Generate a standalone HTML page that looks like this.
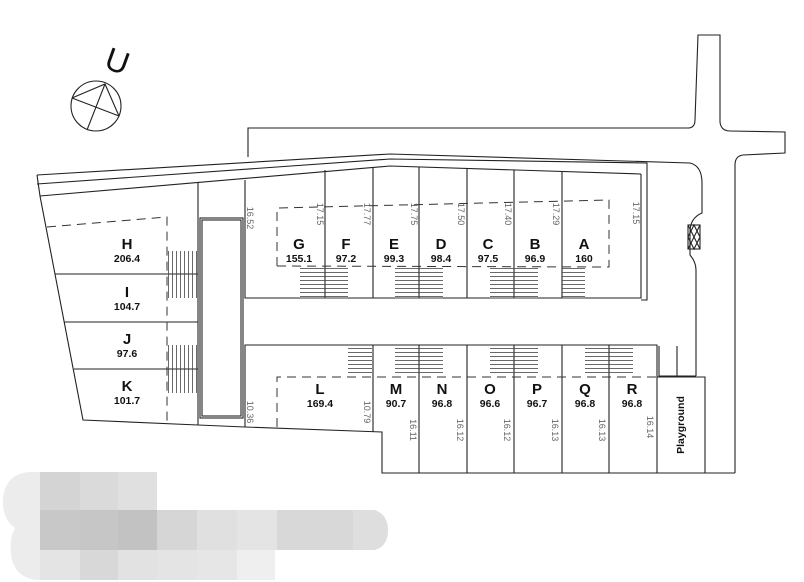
<!DOCTYPE html>
<html><head><meta charset="utf-8"><style>
html,body{margin:0;padding:0;background:#fff;width:804px;height:582px;overflow:hidden}
svg{display:block}
.l{fill:none;stroke:#222;stroke-width:1.1}
.t{stroke:#444;stroke-width:0.8}
.d{fill:none;stroke:#333;stroke-width:1;stroke-dasharray:9 6}
.L{font-family:"Liberation Sans",sans-serif;font-weight:bold;font-size:15px;text-anchor:middle;fill:#111}
.N{font-family:"Liberation Sans",sans-serif;font-weight:bold;font-size:10.5px;text-anchor:middle;fill:#111}
.m{font-family:"Liberation Sans",sans-serif;font-size:9px;fill:#666;text-anchor:middle}
</style></head><body>
<svg width="804" height="582" viewBox="0 0 804 582" xmlns="http://www.w3.org/2000/svg">
<defs>
<pattern id="hh" width="4" height="4" patternUnits="userSpaceOnUse"><line x1="0" y1="0.5" x2="4" y2="0.5" stroke="#444" stroke-width="0.8"/></pattern>
<pattern id="vv" width="4" height="4" patternUnits="userSpaceOnUse"><line x1="0.5" y1="0" x2="0.5" y2="4" stroke="#444" stroke-width="0.8"/></pattern>
</defs>
<!-- compass -->
<circle cx="96" cy="106" r="25" class="l" stroke-width="0.9"/>
<path class="l" stroke-width="0.9" d="M72 98 L119 116 M105 84 L87 130 M72 98 L105 84 L119 116"/>
<text x="117" y="72" transform="rotate(20 117 62)" font-family="Liberation Sans,sans-serif" font-size="32" text-anchor="middle" fill="#111">U</text>
<!-- road / top boundary -->
<path class="l" d="M248 157 L248 128 L688 128 Q695 128 695 120 L698 35 L720 35 L720 122 Q721 131 730 131 L785 132 L785 153 L743 155 Q735 156 735 165 L735 473"/>
<path class="l" d="M37 175 L390 154 L690 163 Q702 166 702 183 L702 213 Q690 218 690 232 L690 255 Q696 262 696 270 L696 376"/>
<rect x="688" y="225" width="12" height="24" class="l" stroke-width="0.8"/>
<path class="l" stroke-width="0.7" d="M688 225 L700 249 M700 225 L688 249 M688 237 L694 225 L700 237 L694 249 Z"/>
<path class="l" d="M37 184 L390 159 L647 163 L647 300 L641 300"/>
<path class="l" d="M40 196 L390 166 L641 174"/>
<!-- left boundary -->
<path class="l" d="M37 175 L40 196 L83 420 L198 425 L245 427 L382 432 L382 473 L735 473"/>
<!-- upper block -->
<path class="l" d="M245 180 L245 298 L641 298 L641 174"/>
<path class="l" d="M325 170 V298 M373 167 V298 M419 167 V298 M467 169 V298 M514 170 V298 M562 171 V298"/>
<!-- lower block -->
<path class="l" d="M245 427 L245 345 L657 345 L657 473 M659 346 L659 376 L696 376 M657 377 L705 377 L705 473 M677 346 L677 376"/>
<path class="l" d="M419 345 V473 M467 345 V473 M514 345 V473 M562 345 V473 M609 345 V473 M373 345 V432"/>
<!-- walkway -->
<rect x="200" y="218" width="43" height="200" class="l"/>
<rect x="202" y="220" width="39" height="196" class="l" stroke-width="0.7"/>
<path class="l" d="M198 183 V425"/>
<!-- left lots -->
<path class="l" d="M55 274 H198 M64 322 H198 M74 369 H198"/>
<path class="d" d="M47 227 L167 217 L167 425"/>
<rect x="167" y="251" width="31" height="47" fill="url(#vv)"/>
<rect x="167" y="345" width="31" height="48" fill="url(#vv)"/>
<!-- dashed build lines -->
<path class="d" d="M277 266 L277 208 L609 200 L609 267 L277 266"/>
<path class="d" d="M277 427 L277 377 L657 377"/>
<!-- stairs -->
<g fill="url(#hh)">
<rect x="300" y="267" width="48" height="31"/>
<rect x="395" y="267" width="48" height="31"/>
<rect x="490" y="267" width="48" height="31"/>
<rect x="562" y="267" width="23" height="31"/>
<rect x="348" y="346" width="24" height="30"/>
<rect x="395" y="346" width="48" height="30"/>
<rect x="490" y="346" width="48" height="30"/>
<rect x="585" y="346" width="48" height="30"/>
</g>
<g class="t"><path d="M300 298H348M395 298H443M490 298H538M562 298H585"/></g>
<!-- labels -->
<text class="L" x="127" y="249">H</text><text class="N" x="127" y="262">206.4</text>
<text class="L" x="127" y="297">I</text><text class="N" x="127" y="310">104.7</text>
<text class="L" x="127" y="344">J</text><text class="N" x="127" y="357">97.6</text>
<text class="L" x="127" y="391">K</text><text class="N" x="127" y="404">101.7</text>
<text class="L" x="299" y="249">G</text><text class="N" x="299" y="262">155.1</text>
<text class="L" x="346" y="249">F</text><text class="N" x="346" y="262">97.2</text>
<text class="L" x="394" y="249">E</text><text class="N" x="394" y="262">99.3</text>
<text class="L" x="441" y="249">D</text><text class="N" x="441" y="262">98.4</text>
<text class="L" x="488" y="249">C</text><text class="N" x="488" y="262">97.5</text>
<text class="L" x="535" y="249">B</text><text class="N" x="535" y="262">96.9</text>
<text class="L" x="584" y="249">A</text><text class="N" x="584" y="262">160</text>
<text class="L" x="320" y="394">L</text><text class="N" x="320" y="407">169.4</text>
<text class="L" x="396" y="394">M</text><text class="N" x="396" y="407">90.7</text>
<text class="L" x="442" y="394">N</text><text class="N" x="442" y="407">96.8</text>
<text class="L" x="490" y="394">O</text><text class="N" x="490" y="407">96.6</text>
<text class="L" x="537" y="394">P</text><text class="N" x="537" y="407">96.7</text>
<text class="L" x="585" y="394">Q</text><text class="N" x="585" y="407">96.8</text>
<text class="L" x="632" y="394">R</text><text class="N" x="632" y="407">96.8</text>
<text class="N" x="0" y="0" transform="translate(684 425) rotate(-90)">Playground</text>
<!-- dimensions -->
<g class="m">
<text transform="translate(247 218) rotate(90)">16.52</text>
<text transform="translate(317 214) rotate(90)">17.15</text>
<text transform="translate(364 214) rotate(90)">17.77</text>
<text transform="translate(411 214) rotate(90)">17.75</text>
<text transform="translate(458 214) rotate(90)">17.50</text>
<text transform="translate(505 214) rotate(90)">17.40</text>
<text transform="translate(553 214) rotate(90)">17.29</text>
<text transform="translate(633 213) rotate(90)">17.15</text>
<text transform="translate(247 412) rotate(90)">10.36</text>
<text transform="translate(364 412) rotate(90)">10.79</text>
<text transform="translate(410 430) rotate(90)">16.11</text>
<text transform="translate(457 430) rotate(90)">16.12</text>
<text transform="translate(504 430) rotate(90)">16.12</text>
<text transform="translate(552 430) rotate(90)">16.13</text>
<text transform="translate(599 430) rotate(90)">16.13</text>
<text transform="translate(647 427) rotate(90)">16.14</text>
</g>
<!-- blurred block -->
<g>
<path d="M40 472 L30 472 Q2 474 3 505 Q4 520 15 528 Q8 540 12 560 Q18 580 40 580 Z" fill="#ececec"/>
<rect x="40" y="472" width="40" height="38" fill="#d4d4d4"/>
<rect x="80" y="472" width="38" height="38" fill="#dadada"/>
<rect x="118" y="472" width="39" height="38" fill="#e0e0e0"/>
<rect x="40" y="510" width="40" height="40" fill="#c8c8c8"/>
<rect x="80" y="510" width="38" height="40" fill="#c6c6c6"/>
<rect x="118" y="510" width="39" height="40" fill="#c2c2c2"/>
<rect x="157" y="510" width="40" height="40" fill="#d6d6d6"/>
<rect x="197" y="510" width="40" height="40" fill="#e0e0e0"/>
<rect x="237" y="510" width="40" height="40" fill="#e4e4e4"/>
<rect x="277" y="510" width="76" height="40" fill="#d8d8d8"/>
<path d="M353 510 H375 Q388 515 388 530 Q388 546 375 550 H353 Z" fill="#dedede"/>
<rect x="40" y="550" width="40" height="30" fill="#e4e4e4"/>
<rect x="80" y="550" width="38" height="30" fill="#d8d8d8"/>
<rect x="118" y="550" width="39" height="30" fill="#e2e2e2"/>
<rect x="157" y="550" width="40" height="30" fill="#e4e4e4"/>
<rect x="197" y="550" width="40" height="30" fill="#e6e6e6"/>
<rect x="237" y="550" width="38" height="30" fill="#efefef"/>
</g>
</svg>
</body></html>
